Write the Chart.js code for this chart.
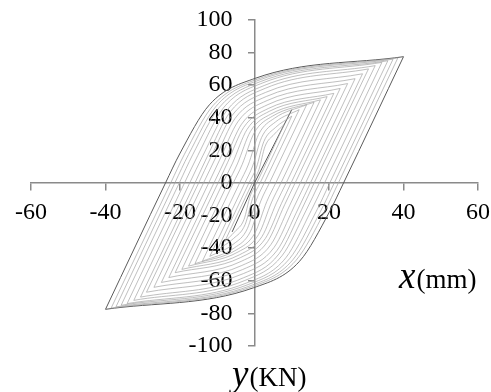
<!DOCTYPE html>
<html><head><meta charset="utf-8">
<script src="https://cdn.jsdelivr.net/npm/chart.js@4.4.0/dist/chart.umd.min.js"></script>
<style>html,body{margin:0;padding:0;background:#fff;}canvas{display:block;}</style>
</head><body>
<canvas id="c" width="491" height="392"></canvas>
<script>
// Tick labels
const xTicks = [-60, -40, -20, 0, 20, 40, 60];
const yTicks = [-100, -80, -60, -40, -20, 0, 20, 40, 60, 80, 100];
const xTitle = ['x', '(mm)'];
const yTitle = ['y', '(KN)'];

// Key points of each hysteresis loop (positive half; negative half is symmetric)
const peakDisp   = [8, 10, 12, 14, 16, 17.7, 19.5, 21.3, 23, 25, 27, 29, 30.6, 32.4, 34.2, 35.8, 37.2, 38.5, 40];
const peakForce  = [36, 41, 45, 48, 49.5, 51, 53, 55, 58, 61, 64, 67, 70, 72, 74, 75, 76, 76.8, 77.5];
const zeroDisp   = [0.6, 1.5, 2.6, 4.0, 5.7, 7.1, 8.5, 9.8, 10.9, 12.3, 13.7, 15.0, 16.0, 17.4, 18.8, 20.2, 21.4, 22.5, 23.9];
const kneeDisp   = [-1.2, -0.5, 0.5, 1.7, 3.3, 4.6, 5.9, 7.2, 8.1, 9.4, 10.6, 11.8, 12.7, 13.9, 15.2, 16.6, 17.7, 18.8, 20.1];
const kneeForce  = [-8.3, -9.4, -10.4, -11, -11.4, -11.7, -12.2, -12.7, -13.3, -14, -14.7, -15.4, -16.1, -16.6, -17, -17.3, -17.5, -17.7, -17.8];
const bendDisp   = [-2.8, -2.5, -1.9, -1.1, 0.1, 1.1, 2.0, 2.9, 3.5, 4.4, 5.2, 6.0, 6.6, 7.4, 8.4, 9.4, 10.3, 11.1, 12.1];
const bendForce  = [-22.3, -25.4, -27.9, -29.8, -30.7, -31.6, -32.9, -34.1, -36, -37.8, -39.7, -41.5, -43.4, -44.6, -45.9, -46.5, -47.1, -47.6, -48];
const interDisp  = [-5.3, -5.6, -5.6, -5.4, -4.9, -4.4, -4.0, -3.7, -3.6, -3.4, -3.2, -3.0, -2.9, -2.6, -2.2, -1.7, -1.2, -0.8, -0.3];
const interForce = [-29.9, -34, -37.4, -39.8, -41.1, -42.3, -44, -45.7, -48.1, -50.6, -53.1, -55.6, -58.1, -59.8, -61.4, -62.3, -63.1, -63.7, -64.3];
// initial elastic branch
const initDisp  = [-6, 0, 10];
const initForce = [-30, 0, 45];

const datasets = [];
const n = peakDisp.length;
for (let i = 0; i < n; i++) {
  const outer = i === n - 1;
  [1, -1].forEach(s => {
    datasets.push({
      data: [
        {x: s * peakDisp[i], y: s * peakForce[i]},
        {x: s * zeroDisp[i], y: 0},
        {x: s * kneeDisp[i], y: s * kneeForce[i]},
        {x: s * bendDisp[i], y: s * bendForce[i]},
        {x: s * interDisp[i], y: s * interForce[i]},
        {x: -s * peakDisp[i], y: -s * peakForce[i]}
      ],
      showLine: true,
      borderColor: outer ? '#5a5a5a' : '#a3a3a3',
      borderWidth: outer ? 1 : 0.7,
      pointRadius: 0,
      cubicInterpolationMode: 'monotone',
      fill: false
    });
  });
}
datasets.push({
  data: initDisp.map((v, k) => ({x: v, y: initForce[k]})),
  showLine: true, borderColor: '#555', borderWidth: 1, pointRadius: 0, fill: false
});

const fontFamily = '"Liberation Serif", "Times New Roman", serif';
const tickFont = {family: fontFamily, size: 24};
const axisColor = '#8a8a8a';

const labelPlugin = {
  id: 'labels',
  beforeDatasetsDraw(chart) {
    // y tick labels, left of the centred y axis
    const ctx = chart.ctx;
    const xs = chart.scales.x, ys = chart.scales.y;
    const ax = xs.getPixelForValue(0);
    ctx.save();
    ctx.fillStyle = '#000';
    ctx.font = '24px ' + fontFamily;
    ctx.textAlign = 'right';
    ctx.textBaseline = 'middle';
    yTicks.forEach(v => ctx.fillText(String(v), ax - 22, ys.getPixelForValue(v)));
    ctx.restore();
  },
  afterDraw(chart) {
    const ctx = chart.ctx;
    ctx.save();
    ctx.fillStyle = '#000';
    ctx.textBaseline = 'alphabetic';
    ctx.textAlign = 'left';
    const draw = (t, x, y) => {
      ctx.font = 'italic 37px ' + fontFamily;
      ctx.fillText(t[0], x, y);
      const w = ctx.measureText(t[0]).width;
      ctx.font = '27px ' + fontFamily;
      ctx.fillText(t[1], x + w + 1, y);
    };
    draw(xTitle, 399, 288);
    draw(yTitle, 232, 386);
    ctx.restore();
  }
};

new Chart(document.getElementById('c'), {
  type: 'scatter',
  data: {datasets},
  plugins: [labelPlugin],
  options: {
    responsive: false,
    animation: false,
    layout: {padding: {left: 31, right: 13, top: 20, bottom: 46}},
    plugins: {legend: {display: false}, tooltip: {enabled: false}},
    scales: {
      x: {
        type: 'linear', min: -60, max: 60, position: {y: 0},
        afterBuildTicks: s => { s.ticks = xTicks.map(v => ({value: v})); },
        afterFit: s => { s.paddingLeft = 0; s.paddingRight = 0; },
        ticks: {font: tickFont, color: '#000', padding: 8, maxRotation: 0, autoSkip: false},
        grid: {drawOnChartArea: false, drawTicks: true, tickLength: 7, color: axisColor, lineWidth: 1.5},
        border: {color: axisColor, width: 1.5}
      },
      y: {
        type: 'linear', min: -100, max: 100, position: {x: 0},
        afterBuildTicks: s => { s.ticks = yTicks.map(v => ({value: v})); },
        afterFit: s => { s.paddingTop = 0; s.paddingBottom = 0; },
        ticks: {display: false},
        grid: {drawOnChartArea: false, drawTicks: true, tickLength: 6, color: axisColor, lineWidth: 1.5},
        border: {color: axisColor, width: 1.5}
      }
    }
  }
});
</script>
</body></html>
